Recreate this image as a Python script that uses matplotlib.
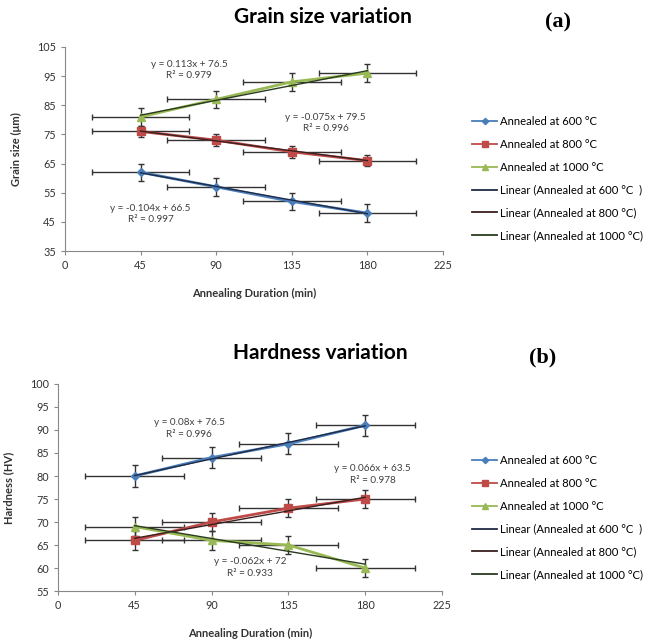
import numpy as np
import matplotlib
matplotlib.use("Agg")
from matplotlib import pyplot as plt

plt.rcParams.update({
    "font.family": ["Lato", "DejaVu Sans"],
    "font.size": 7,
})

# %% data
duration = [45, 90, 135, 180]
labels = ["Annealed at 600 \u00b0C", "Annealed at 800 \u00b0C", "Annealed at 1000 \u00b0C"]
fit_labels = ["Linear (Annealed at 600 \u00b0C  )", "Linear (Annealed at 800 \u00b0C)",
              "Linear (Annealed at 1000 \u00b0C)"]

grain_600 = [62, 57, 52, 48]
grain_800 = [76, 73, 69, 66]
grain_1000 = [81, 87, 93, 96]
grain_yerr = [3, 2, 3]
grain_slope = [-0.104, -0.075, 0.113]
grain_icpt = [66.5, 79.5, 76.5]
grain_r2 = [0.997, 0.996, 0.979]

hard_600 = [80, 84, 87, 91]
hard_800 = [66, 70, 73, 75]
hard_1000 = [69, 66, 65, 60]
hard_yerr = [2.3, 2, 2]
hard_slope = [0.08, 0.066, -0.062]
hard_icpt = [76.5, 63.5, 72]
hard_r2 = [0.996, 0.978, 0.933]

xerr = 29

colors = ["#4a7ebb", "#be4b48", "#98b954"]
markers = ["D", "s", "^"]
msizes = [4, 6, 6]
fit_colors = ["#1f2a44", "#3a2020", "#2a3a20"]


def eq_text(slope, icpt, r2):
    sign = "+" if icpt >= 0 else "-"
    return f"y = {slope:g}x {sign} {abs(icpt):g}\nR\u00b2 = {r2:g}"


def draw_panel(ax, series, yerr, slopes, icpts, r2s, eq_pos, ylim, yticks):
    for i, ys in enumerate(series):
        ax.errorbar(duration, ys, xerr=xerr, yerr=yerr[i], fmt="none",
                    ecolor="#333333", elinewidth=1, capsize=2, capthick=1, zorder=2)
        ax.plot(duration, ys, color=colors[i], marker=markers[i], markersize=msizes[i],
                linewidth=2, label=labels[i], zorder=3)
    xs = np.array([duration[0], duration[-1]])
    for i in range(len(series)):
        ax.plot(xs, slopes[i] * xs + icpts[i], color=fit_colors[i], linewidth=1,
                label=fit_labels[i], zorder=4)
        ax.text(eq_pos[i][0], eq_pos[i][1], eq_text(slopes[i], icpts[i], r2s[i]),
                ha="center", va="center", fontsize=7.2, color="#404040", linespacing=1.4)
    ax.set_xlim(0, 225)
    ax.set_xticks([0, 45, 90, 135, 180, 225])
    ax.set_ylim(*ylim)
    ax.set_yticks(yticks)
    for side in ["top", "right"]:
        ax.spines[side].set_visible(False)
    for side in ["left", "bottom"]:
        ax.spines[side].set_color("#888888")
    ax.tick_params(colors="#888888", labelcolor="#333333", length=3, labelsize=7.8)
    ax.set_xlabel("Annealing Duration (min)", fontsize=8, fontweight="bold",
                  color="#333333", labelpad=12)


def add_legend(ax, top_px):
    leg = ax.legend(loc="upper left", bbox_to_anchor=(462 / 658, 1 - top_px / 642),
                    bbox_transform=fig.transFigure, frameon=False, fontsize=8.1,
                    labelspacing=1.05, handlelength=2.2, handletextpad=0.3,
                    markerscale=0.8)
    for line in leg.get_lines():
        line.set_linewidth(1.3)


fig = plt.figure(figsize=(6.58, 6.42), dpi=100)

ax1 = fig.add_axes([0.0988, 0.609, 0.5745, 0.318])
draw_panel(ax1, [grain_600, grain_800, grain_1000], grain_yerr, grain_slope, grain_icpt,
           grain_r2, [(51, 47.7), (155, 78.9), (74, 97.1)], (35, 105), range(35, 106, 10))
ax1.set_ylabel("Grain size (\u03bcm)", fontsize=8, fontweight="bold", color="#333333",
               labelpad=11)
add_legend(ax1, 106)
fig.text(323 / 658, 1 - 17 / 642, "Grain size variation", ha="center", va="center",
         fontsize=15, fontweight="bold")
fig.text(558 / 658, 1 - 22 / 642, "(a)", ha="center", va="center", fontsize=16,
         fontweight="bold", family="Liberation Serif")

ax2 = fig.add_axes([0.088, 0.0794, 0.5836, 0.3225])
draw_panel(ax2, [hard_600, hard_800, hard_1000], hard_yerr, hard_slope, hard_icpt,
           hard_r2, [(77, 90.4), (184.5, 80.4), (112.5, 60.2)], (55, 100), range(55, 101, 5))
ax2.set_ylabel("Hardness (HV)", fontsize=8, fontweight="bold", color="#333333",
               labelpad=11)
add_legend(ax2, 445)
fig.text(320 / 658, 1 - 353 / 642, "Hardness variation", ha="center", va="center",
         fontsize=15, fontweight="bold")
fig.text(543 / 658, 1 - 357 / 642, "(b)", ha="center", va="center", fontsize=16,
         fontweight="bold", family="Liberation Serif")

fig.savefig("out.png", dpi=100)
